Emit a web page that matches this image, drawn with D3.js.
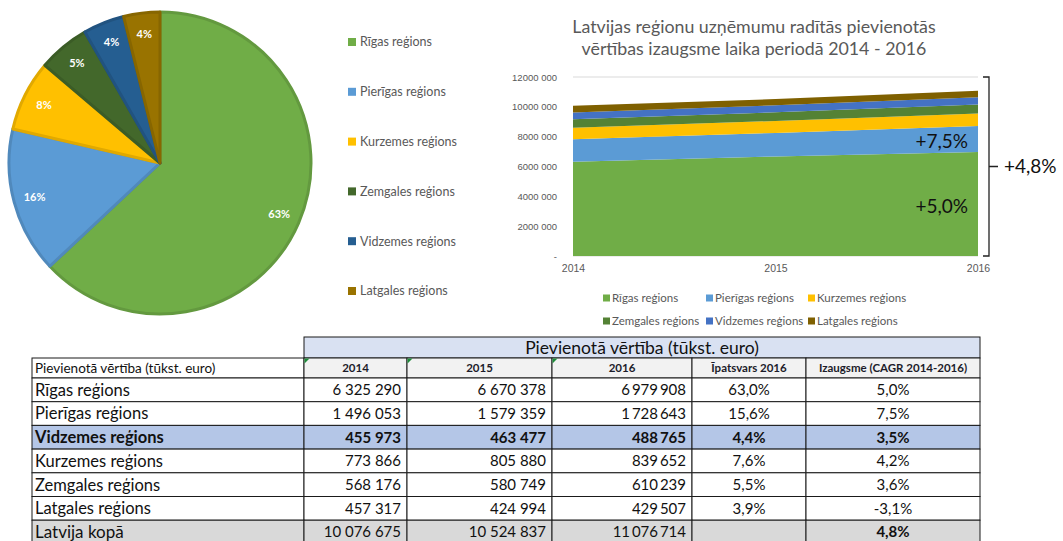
<!DOCTYPE html>
<html>
<head>
<meta charset="utf-8">
<script src="https://cdn.jsdelivr.net/npm/d3@7"></script>
<style>
  body { margin: 0; background: #fff; }
  svg { display: block; font-family: Lato, "Noto Sans", sans-serif; }
</style>
</head>
<body>
<svg id="chart" width="1063" height="541"></svg>
<script>
// ---- Data ----
const regions = ["Rīgas reģions", "Pierīgas reģions", "Kurzemes reģions", "Zemgales reģions", "Vidzemes reģions", "Latgales reģions"];
const years = [2014, 2015, 2016];
const values2014 = [6325290, 1496053, 773866, 568176, 455973, 457317];
const values2015 = [6670378, 1579359, 805880, 580749, 463477, 424994];
const values2016 = [6979908, 1728643, 839652, 610239, 488765, 429507];
const pieLabels = [63, 16, 8, 5, 4, 4];   // labels as printed on the pie
const share2016 = [63.0, 15.6, 7.6, 5.5, 4.4, 3.9];
const cagr = [5.0, 7.5, 4.2, 3.6, 3.5, -3.1];
const totals = [10076675, 10524837, 11076714];
const totalCagr = 4.8;
const tableOrder = [0, 1, 4, 2, 3, 5];   // table lists Vidzemes third
const highlightRegion = 4;               // Vidzemes row is highlighted
const yTicks = [0, 2000000, 4000000, 6000000, 8000000, 10000000, 12000000];
const annotatedRegions = [0, 1];         // CAGR labels drawn inside the areas

const pieColors = ["#70AD47", "#5B9BD5", "#FFC000", "#43682B", "#255E91", "#997300"];
const areaColors = ["#70AD47", "#5B9BD5", "#FFC000", "#548235", "#4472C4", "#7F6000"];

const tableTitle = "Pievienotā vērtība (tūkst. euro)";
const headerLabels = ["Pievienotā vērtība (tūkst. euro)", "2014", "2015", "2016", "Īpatsvars 2016", "Izaugsme (CAGR 2014-2016)"];
const totalLabel = "Latvija kopā";
const titleLines = ["Latvijas reģionu uzņēmumu radītās pievienotās", "vērtības izaugsme laika periodā 2014 - 2016"];

const lv = d3.formatLocale({ decimal: ",", thousands: "\u00a0", grouping: [3], currency: ["", ""], minus: "-" });
const lvThin = d3.formatLocale({ decimal: ",", thousands: "\u2009", grouping: [3], currency: ["", ""], minus: "-" });
const fmtInt = lv.format(",d");
const fmtIntThin = lvThin.format(",d");
const fmtPct = v => lv.format(".1f")(v) + "%";
const fmtGrowth = v => "+" + lv.format(".1f")(v) + "%";

const svg = d3.select("#chart");
const grey = "#595959";

// ---- Pie ----
const pieR = 151;
const pieG = svg.append("g").attr("transform", "translate(160,163)");
const arcs = d3.pie().sort(null).value(d => d.v)(regions.map((r, i) => ({ r, i, v: values2016[i] })));
const arc = d3.arc().innerRadius(0).outerRadius(pieR);
const labelArc = d3.arc().innerRadius(pieR * 0.86).outerRadius(pieR * 0.86);

pieG.selectAll("path.slice")
  .data(arcs)
  .join("path")
  .attr("class", "slice")
  .attr("d", arc)
  .attr("fill", d => pieColors[d.data.i])
  .attr("stroke", d => d3.color(pieColors[d.data.i]).darker(0.35))
  .attr("stroke-width", 3)
  .attr("stroke-linejoin", "round");

pieG.selectAll("text.plabel")
  .data(arcs)
  .join("text")
  .attr("class", "plabel")
  .attr("transform", d => `translate(${labelArc.centroid(d)})`)
  .attr("text-anchor", "middle")
  .attr("dy", "0.35em")
  .attr("fill", "#fff")
  .attr("font-weight", "bold")
  .attr("font-size", 11)
  .text(d => pieLabels[d.data.i] + "%");

// pie legend
const pieLeg = svg.append("g").selectAll("g")
  .data(regions)
  .join("g")
  .attr("transform", (d, i) => `translate(348,${42 + i * 49.8})`);
pieLeg.append("rect").attr("x", 0).attr("y", -4).attr("width", 8).attr("height", 8)
  .attr("fill", (d, i) => pieColors[i]);
pieLeg.append("text").attr("x", 12).attr("dy", "0.35em")
  .attr("font-size", 12.5).attr("fill", grey).text(d => d);

// ---- Stacked area ----
svg.append("g").selectAll("text")
  .data(titleLines)
  .join("text")
  .attr("x", 754).attr("y", (d, i) => 27 + i * 22)
  .attr("text-anchor", "middle").attr("dy", "0.35em")
  .attr("font-size", 17.8).attr("fill", grey)
  .text(d => d);

const x = d3.scaleLinear().domain([2014, 2016]).range([573, 978]);
const y = d3.scaleLinear().domain([0, 12000000]).range([256, 77]);

const yearRows = years.map((yr, j) => {
  const row = { year: yr };
  const src = [values2014, values2015, values2016][j];
  regions.forEach((r, i) => { row[r] = src[i]; });
  return row;
});
const series = d3.stack().keys(regions)(yearRows);

svg.append("g").selectAll("line")
  .data(yTicks)
  .join("line")
  .attr("x1", x(2014)).attr("x2", x(2016))
  .attr("y1", d => y(d)).attr("y2", d => y(d))
  .attr("stroke", "#D9D9D9").attr("stroke-width", 1);

const area = d3.area()
  .x(d => x(d.data.year))
  .y0(d => y(d[0]))
  .y1(d => y(d[1]));

svg.append("g").selectAll("path")
  .data(series)
  .join("path")
  .attr("d", area)
  .attr("fill", (d, i) => areaColors[i]);

const yAxis = svg.append("g")
  .attr("transform", `translate(${x(2014) - 14},0)`)
  .call(d3.axisLeft(y).tickValues(yTicks).tickSize(0).tickPadding(2)
    .tickFormat(d => d === 0 ? "-" : `${d / 1000} 000`));
yAxis.select(".domain").remove();
yAxis.selectAll("text").attr("font-size", 9.5).attr("fill", grey).attr("font-family", null);

const xAxis = svg.append("g")
  .attr("transform", `translate(0,${y(0) + 9})`)
  .call(d3.axisBottom(x).tickValues(years).tickSize(0).tickPadding(0).tickFormat(d3.format("d")));
xAxis.select(".domain").remove();
xAxis.selectAll("text").attr("font-size", 10.5).attr("fill", grey).attr("font-family", null);

// growth labels inside areas
svg.append("g").selectAll("text")
  .data(annotatedRegions)
  .join("text")
  .attr("x", x(2016) - 10)
  .attr("y", i => y((series[i][2][0] + series[i][2][1]) / 2) + 2)
  .attr("dy", "0.35em")
  .attr("text-anchor", "end")
  .attr("font-size", 19).attr("fill", "#111")
  .text(i => fmtGrowth(cagr[i]));

// bracket with total growth
const bx = x(2016) + 11;
const yTop = y(12000000), yBot = y(0), yMid = (yTop + yBot) / 2;
svg.append("path")
  .attr("d", `M${bx - 6},${yTop}H${bx}V${yBot}H${bx - 6}M${bx},${yMid}H${bx + 9}`)
  .attr("fill", "none").attr("stroke", "#222").attr("stroke-width", 1.3);
svg.append("text")
  .attr("x", bx + 15).attr("y", yMid).attr("dy", "0.35em")
  .attr("font-size", 19).attr("fill", "#111")
  .text(fmtGrowth(totalCagr));

// area legend
const legCols = [603, 706, 808];
const areaLeg = svg.append("g").selectAll("g")
  .data(regions)
  .join("g")
  .attr("transform", (d, i) => `translate(${legCols[i % 3]},${298 + Math.floor(i / 3) * 23})`);
areaLeg.append("rect").attr("x", 0).attr("y", -3.5).attr("width", 7).attr("height", 7)
  .attr("fill", (d, i) => areaColors[i]);
areaLeg.append("text").attr("x", 9).attr("dy", "0.35em")
  .attr("font-size", 11.5).attr("fill", grey).text(d => d);

// ---- Table ----
const colX = [32, 304, 407, 552, 692, 806, 980];
const rowH = 23.7;
const tableTop = 337, head1H = 21, head2H = 20;
const bodyTop = tableTop + head1H + head2H;
const tg = svg.append("g").attr("class", "table");

function cell(x0, x1, y0, h, fill) {
  tg.append("rect").attr("x", x0).attr("y", y0).attr("width", x1 - x0).attr("height", h)
    .attr("fill", fill).attr("stroke", "#1a1a1a").attr("stroke-width", 1);
}
function cellText(txt, x0, x1, y0, h, align, opts) {
  const o = opts || {};
  const tx = align === "start" ? x0 + 3 : align === "end" ? x1 - 6 : (x0 + x1) / 2;
  tg.append("text").attr("x", tx).attr("y", y0 + h / 2).attr("dy", "0.36em")
    .attr("text-anchor", align)
    .attr("font-size", o.size || 15)
    .attr("font-weight", o.bold ? "bold" : null)
    .attr("fill", o.color || "#111")
    .text(txt);
}

// header row 1
cell(colX[1], colX[6], tableTop, head1H, "#D9E1F2");
cellText(tableTitle, colX[1], colX[6], tableTop, head1H, "middle", { size: 17.5 });

// header row 2
const h2y = tableTop + head1H;
headerLabels.forEach((lab, c) => {
  cell(colX[c], colX[c + 1], h2y, head2H, c === 0 ? "#fff" : "#F2F2F2");
  if (c === 0) cellText(lab, colX[c], colX[c + 1], h2y, head2H, "start", { size: 13.5 });
  else cellText(lab, colX[c], colX[c + 1], h2y, head2H, "middle", { size: 11.5, bold: true, color: "#1c1c2a" });
});
[1, 2, 3].forEach(c => {
  tg.append("path").attr("d", `M${colX[c] + 0.5},${h2y + 0.5}h5l-5,5z`).attr("fill", "#1E8C3A");
});

// body rows
tableOrder.forEach((ri, k) => {
  const y0 = bodyTop + k * rowH;
  const hl = ri === highlightRegion;
  const fill = hl ? "#B4C6E7" : "#fff";
  for (let c = 0; c < 6; c++) cell(colX[c], colX[c + 1], y0, rowH, fill);
  const o = { bold: hl };
  cellText(regions[ri], colX[0], colX[1], y0, rowH, "start", { bold: hl, size: 16.5 });
  cellText(fmtInt(values2014[ri]), colX[1], colX[2], y0, rowH, "end", o);
  cellText(fmtInt(values2015[ri]), colX[2], colX[3], y0, rowH, "end", o);
  cellText(fmtIntThin(values2016[ri]), colX[3], colX[4], y0, rowH, "end", o);
  cellText(fmtPct(share2016[ri]), colX[4], colX[5], y0, rowH, "middle", o);
  cellText(fmtPct(cagr[ri]), colX[5], colX[6], y0, rowH, "middle", o);
});

// total row
const ty = bodyTop + tableOrder.length * rowH;
for (let c = 0; c < 6; c++) cell(colX[c], colX[c + 1], ty, rowH, "#D9D9D9");
cellText(totalLabel, colX[0], colX[1], ty, rowH, "start", { size: 17 });
cellText(fmtInt(totals[0]), colX[1], colX[2], ty, rowH, "end");
cellText(fmtInt(totals[1]), colX[2], colX[3], ty, rowH, "end");
cellText(fmtIntThin(totals[2]), colX[3], colX[4], ty, rowH, "end");
cellText(fmtPct(totalCagr), colX[5], colX[6], ty, rowH, "middle", { bold: true });
</script>
</body>
</html>
